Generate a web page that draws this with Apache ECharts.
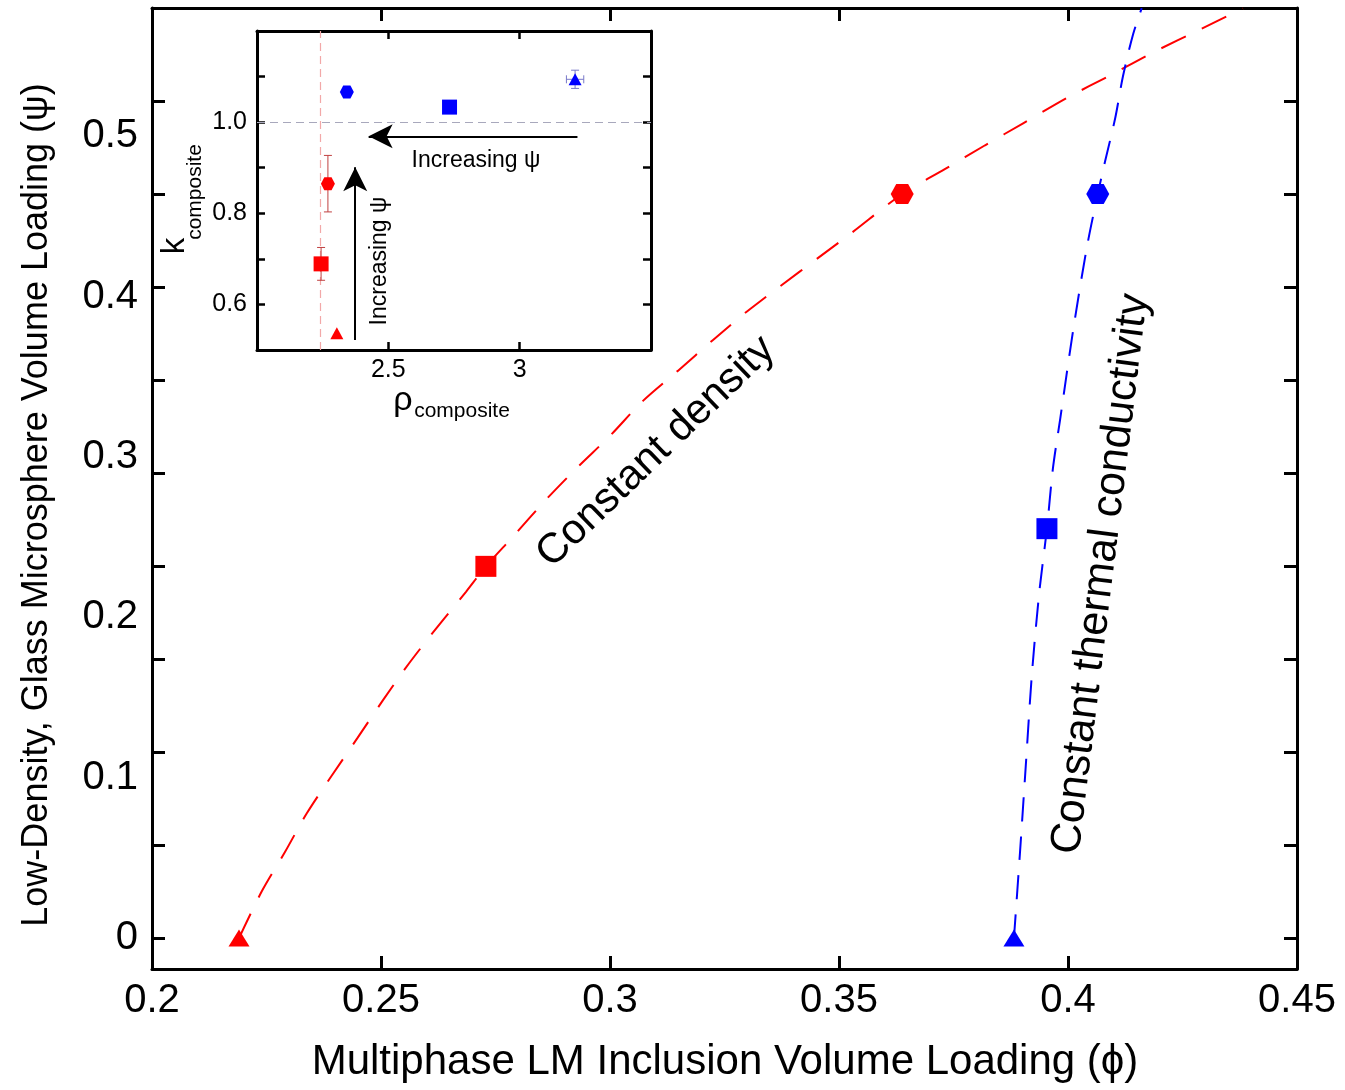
<!DOCTYPE html>
<html>
<head>
<meta charset="utf-8">
<script src="https://cdn.jsdelivr.net/npm/echarts@6/dist/echarts.min.js"></script>
<style>
  html, body { margin: 0; padding: 0; background: #ffffff; }
  #chart { width: 1345px; height: 1090px; }
</style>
</head>
<body>
<div id="chart"></div>
<script>
const FONT = '"Liberation Sans", Arial, Helvetica, sans-serif';

// ---- Main panel: design curves in (phi, psi) ----
// Constant composite density
const densityPhi = [0.219, 0.2240, 0.2290, 0.2338, 0.2393, 0.2448, 0.2504, 0.2561, 0.2622, 0.2686,
  0.2729, 0.2790, 0.2858, 0.2928, 0.3000, 0.3072, 0.3148, 0.3225, 0.3306, 0.3524,
  0.3638, 0.3731, 0.3819, 0.3902, 0.4000, 0.4092, 0.4190, 0.4288, 0.4382];
const densityPsi = [0, 0.0293, 0.0535, 0.0778, 0.1015, 0.1245, 0.1482, 0.1712, 0.1936, 0.2161,
  0.2318, 0.2509, 0.2727, 0.2933, 0.3132, 0.3350, 0.3537, 0.3730, 0.3923, 0.4390,
  0.4640, 0.4795, 0.4944, 0.5081, 0.5243, 0.5380, 0.5529, 0.5666, 0.5797];

// Constant composite thermal conductivity
const conductivityPhi = [0.3882, 0.3895, 0.3908, 0.3921, 0.3937, 0.3954, 0.3967, 0.3983,
  0.4011, 0.4041, 0.4065, 0.4081, 0.4103, 0.4120, 0.4142, 0.4161];
const conductivityPsi = [0, 0.0526, 0.1083, 0.1638, 0.2148, 0.2553, 0.2927, 0.3238,
  0.3786, 0.4304, 0.4640, 0.4844, 0.5112, 0.5374, 0.5635, 0.5799];

// Formulations (triangle, square, hexagon)
const densityPointsPhi = [0.219, 0.2729, 0.3638];
const densityPointsPsi = [0, 0.2318, 0.464];
const conductivityPointsPhi = [0.3882, 0.3954, 0.4065];
const conductivityPointsPsi = [0, 0.2553, 0.464];

// Axis labels / ticks
const psiLabelValues = [0, 0.1, 0.2, 0.3, 0.4, 0.5];
const psiTickValues = [0, 0.058, 0.116, 0.174, 0.232, 0.29, 0.348, 0.406, 0.464, 0.522, 0.58];

// ---- Inset: k_composite vs rho_composite ----
const insetRedRho = [2.304, 2.244, 2.270];
const insetRedK = [0.537, 0.689, 0.865];
const insetRedKErr = [0, 0.036, 0.062];
const insetBlueRho = [3.211, 2.733, 2.342];
const insetBlueK = [1.094, 1.033, 1.066];
const insetBlueRhoErr = [0.033, 0, 0];
const insetBlueKErr = [0.02, 0, 0];
const insetKLabels = [0.6, 0.8, 1.0];
const insetRefK = 1.0;
const insetRefRho = 2.24;
// Arrows: [from, to] in (rho, k)
const arrowRhoDirection = [[3.22, 0.969], [2.425, 0.969]];
const arrowKDirection = [[2.374, 0.522], [2.374, 0.901]];

const shapes = ['triangle', 'rect', 'path://M0,5 L2.9,0 L9.1,0 L12,5 L9.1,10 L2.9,10 Z'];
const mainSizes = [[21, 17], [21, 21], [23, 20]];
const insetSizes = [[13, 12], [15, 15], [14, 13]];

function pts(xs, ys) { return xs.map((x, i) => [x, ys[i]]); }
function markers(xs, ys, sizes) {
  return xs.map((x, i) => ({ value: [x, ys[i]], symbol: shapes[i], symbolSize: sizes[i] }));
}

function errorBars(params, api) {
  const x = api.value(0), y = api.value(1), ex = api.value(2), ey = api.value(3);
  const color = api.visual('color');
  const st = { stroke: color, lineWidth: 1 };
  const cap = 4;
  const kids = [];
  if (ey > 0) {
    const a = api.coord([x, y + ey]), b = api.coord([x, y - ey]);
    kids.push({ type: 'line', shape: { x1: a[0], y1: a[1], x2: b[0], y2: b[1] }, style: st });
    kids.push({ type: 'line', shape: { x1: a[0] - cap, y1: a[1], x2: a[0] + cap, y2: a[1] }, style: st });
    kids.push({ type: 'line', shape: { x1: b[0] - cap, y1: b[1], x2: b[0] + cap, y2: b[1] }, style: st });
  }
  if (ex > 0) {
    const a = api.coord([x - ex, y]), b = api.coord([x + ex, y]);
    kids.push({ type: 'line', shape: { x1: a[0], y1: a[1], x2: b[0], y2: b[1] }, style: st });
    kids.push({ type: 'line', shape: { x1: a[0], y1: a[1] - cap, x2: a[0], y2: a[1] + cap }, style: st });
    kids.push({ type: 'line', shape: { x1: b[0], y1: b[1] - cap, x2: b[0], y2: b[1] + cap }, style: st });
  }
  return { type: 'group', children: kids };
}

const axisLine = { show: true, onZero: false, lineStyle: { color: '#000', width: 3 } };
const mainTick = { show: true, inside: true, length: 13, lineStyle: { color: '#000', width: 3 } };
const insetTick = { show: true, inside: true, length: 8, lineStyle: { color: '#000', width: 2.5 } };

const option = {
  animation: false,
  backgroundColor: '#ffffff',
  grid: [
    { left: 152, top: 8, width: 1145, height: 961, show: false },
    { left: 257, top: 31, width: 394, height: 319, show: true, backgroundColor: '#ffffff', borderWidth: 0 }
  ],
  xAxis: [
    { type: 'value', gridIndex: 0, min: 0.2, max: 0.45, interval: 0.05, position: 'bottom',
      axisLine, axisTick: mainTick, splitLine: { show: false },
      axisLabel: { fontFamily: FONT, fontSize: 40, color: '#000', margin: 12 } },
    { type: 'value', gridIndex: 0, min: 0.2, max: 0.45, interval: 0.05, position: 'top',
      axisLine, axisTick: mainTick, splitLine: { show: false }, axisLabel: { show: false } },
    { type: 'value', gridIndex: 1, min: 2.0, max: 3.5, interval: 0.5, position: 'bottom',
      axisLine, axisTick: insetTick, splitLine: { show: false },
      axisLabel: { fontFamily: FONT, fontSize: 25, color: '#000', margin: 8,
        showMinLabel: false, showMaxLabel: false } },
    { type: 'value', gridIndex: 1, min: 2.0, max: 3.5, interval: 0.5, position: 'top',
      axisLine, axisTick: insetTick, splitLine: { show: false }, axisLabel: { show: false } }
  ],
  yAxis: [
    { type: 'value', gridIndex: 0, min: -0.0193, max: 0.58, position: 'left',
      axisLine, splitLine: { show: false },
      axisTick: Object.assign({ customValues: psiTickValues }, mainTick),
      axisLabel: { customValues: psiLabelValues, fontFamily: FONT, fontSize: 40, color: '#000', margin: 14 } },
    { type: 'value', gridIndex: 0, min: -0.0193, max: 0.58, position: 'right',
      axisLine, splitLine: { show: false },
      axisTick: Object.assign({ customValues: psiTickValues }, mainTick),
      axisLabel: { show: false } },
    { type: 'value', gridIndex: 1, min: 0.5, max: 1.2, interval: 0.1, position: 'left',
      axisLine, axisTick: insetTick, splitLine: { show: false },
      axisLabel: { customValues: insetKLabels, fontFamily: FONT, fontSize: 25, color: '#000', margin: 10,
        formatter: v => v.toFixed(1) } },
    { type: 'value', gridIndex: 1, min: 0.5, max: 1.2, interval: 0.1, position: 'right',
      axisLine, axisTick: insetTick, splitLine: { show: false }, axisLabel: { show: false } }
  ],
  series: [
    { name: 'Constant density', type: 'line', xAxisIndex: 0, yAxisIndex: 0,
      data: pts(densityPhi, densityPsi), showSymbol: false, smooth: 0.3,
      lineStyle: { color: '#ff0000', width: 2, type: [27, 18] }, z: 2 },
    { name: 'Constant thermal conductivity', type: 'line', xAxisIndex: 0, yAxisIndex: 0,
      data: pts(conductivityPhi, conductivityPsi), showSymbol: false, smooth: 0.3,
      lineStyle: { color: '#0000ff', width: 2, type: [24, 15] }, z: 2 },
    { type: 'scatter', xAxisIndex: 0, yAxisIndex: 0, itemStyle: { color: '#ff0000', opacity: 1 },
      data: markers(densityPointsPhi, densityPointsPsi, mainSizes), z: 3 },
    { type: 'scatter', xAxisIndex: 0, yAxisIndex: 0, itemStyle: { color: '#0000ff', opacity: 1 },
      data: markers(conductivityPointsPhi, conductivityPointsPsi, mainSizes), z: 3 },

    // inset reference lines
    { type: 'scatter', xAxisIndex: 2, yAxisIndex: 2, data: [], z: 3,
      markLine: { silent: true, symbol: 'none', animation: false, label: { show: false },
        data: [
          { yAxis: insetRefK, lineStyle: { color: '#a8a8bc', width: 1.2, type: [8, 5] } },
          { xAxis: insetRefRho, lineStyle: { color: '#f2a8a8', width: 1.2, type: [8, 5] } }
        ] } },
    // inset arrows
    { type: 'scatter', xAxisIndex: 2, yAxisIndex: 2, data: [], z: 4,
      markLine: { silent: true, symbol: ['none', 'arrow'], symbolSize: [18, 24], animation: false,
        label: { show: false }, lineStyle: { color: '#000', width: 2, type: 'solid' },
        data: [
          [{ coord: arrowRhoDirection[0] }, { coord: arrowRhoDirection[1] }],
          [{ coord: arrowKDirection[0] }, { coord: arrowKDirection[1] }]
        ] } },
    // inset error bars
    { type: 'custom', xAxisIndex: 2, yAxisIndex: 2, renderItem: errorBars, itemStyle: { color: '#c04040' },
      data: insetRedRho.map((x, i) => [x, insetRedK[i], 0, insetRedKErr[i]]), z: 5 },
    { type: 'custom', xAxisIndex: 2, yAxisIndex: 2, renderItem: errorBars, itemStyle: { color: '#7878c8' },
      data: insetBlueRho.map((x, i) => [x, insetBlueK[i], insetBlueRhoErr[i], insetBlueKErr[i]]), z: 5 },
    // inset markers
    { type: 'scatter', xAxisIndex: 2, yAxisIndex: 2, itemStyle: { color: '#ff0000', opacity: 1 },
      data: markers(insetRedRho, insetRedK, insetSizes), z: 6 },
    { type: 'scatter', xAxisIndex: 2, yAxisIndex: 2, itemStyle: { color: '#0000ff', opacity: 1 },
      data: markers(insetBlueRho, insetBlueK, insetSizes), z: 6 }
  ],
  graphic: [
    { type: 'text', x: 725, y: 1062, style: { text: 'Multiphase LM Inclusion Volume Loading (\u03d5)',
      font: '42px ' + FONT, fill: '#000', align: 'center', verticalAlign: 'middle' } },
    { type: 'text', x: 37, y: 505, rotation: Math.PI / 2, style: { text: 'Low-Density, Glass Microsphere Volume Loading (\u03c8)',
      font: '36px ' + FONT, fill: '#000', align: 'center', verticalAlign: 'middle' } },
    { type: 'text', x: 656, y: 452, rotation: 44 * Math.PI / 180, style: { text: 'Constant density',
      font: '42px ' + FONT, fill: '#000', align: 'center', verticalAlign: 'middle' } },
    { type: 'text', x: 1101, y: 574, rotation: 83 * Math.PI / 180, style: { text: 'Constant thermal conductivity',
      font: '43px ' + FONT, fill: '#000', align: 'center', verticalAlign: 'middle' } },
    { type: 'text', x: 476, y: 161, z: 100, style: { text: 'Increasing \u03c8',
      font: '23px ' + FONT, fill: '#000', align: 'center', verticalAlign: 'middle' } },
    { type: 'text', x: 380, y: 261, z: 100, rotation: Math.PI / 2, style: { text: 'Increasing \u03c8',
      font: '23px ' + FONT, fill: '#000', align: 'center', verticalAlign: 'middle' } },
    { type: 'text', x: 175, y: 246, rotation: Math.PI / 2, style: { text: 'k',
      font: '33px ' + FONT, fill: '#000', align: 'center', verticalAlign: 'middle' } },
    { type: 'text', x: 195, y: 192, rotation: Math.PI / 2, style: { text: 'composite',
      font: '21px ' + FONT, fill: '#000', align: 'center', verticalAlign: 'middle' } },
    { type: 'text', x: 403, y: 401, style: { text: '\u03c1',
      font: '34px ' + FONT, fill: '#000', align: 'center', verticalAlign: 'middle' } },
    { type: 'text', x: 462, y: 411, style: { text: 'composite',
      font: '21px ' + FONT, fill: '#000', align: 'center', verticalAlign: 'middle' } }
  ]
};

const chart = echarts.init(document.getElementById('chart'), null, { renderer: 'canvas' });
chart.setOption(option);
</script>
</body>
</html>
